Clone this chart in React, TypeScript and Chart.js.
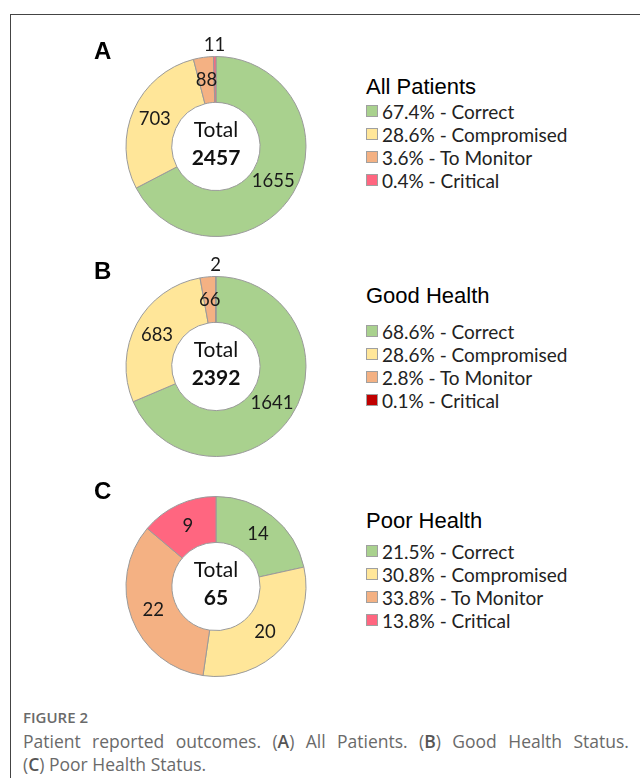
import React, { useEffect, useRef } from "react";
import { Chart, registerables } from "chart.js";

Chart.register(...registerables);

// ---------- data ----------
const categories = ["Correct", "Compromised", "To Monitor", "Critical"];
const allPatientsValues = [1655, 703, 88, 11];
const goodHealthValues = [1641, 683, 66, 2];
const poorHealthValues = [14, 20, 22, 9];
const panelLetters = ["A", "B", "C"];
const panelTitles = ["All Patients", "Good Health", "Poor Health"];
const colorsPink = ["#a9d18e", "#ffe699", "#f4b183", "#ff6680"];
const colorsDarkRed = ["#a9d18e", "#ffe699", "#f4b183", "#c00000"];
const figureLabel = "FIGURE 2";
const captionLine1 = ["Patient", "reported", "outcomes.", "(A)", "All", "Patients.", "(B)", "Good", "Health", "Status."];
const captionLine2 = "Poor Health Status.";

type PanelSpec = {
  values: number[];
  colors: string[];
  letter: string;
  title: string;
  cy: number;
  titleY: number;
  firstItemY: number;
};

const panels: PanelSpec[] = [
  { values: allPatientsValues, colors: colorsPink, letter: panelLetters[0], title: panelTitles[0], cy: 146.5, titleY: 87, firstItemY: 111 },
  { values: goodHealthValues, colors: colorsDarkRed, letter: panelLetters[1], title: panelTitles[1], cy: 366.5, titleY: 296, firstItemY: 331 },
  { values: poorHealthValues, colors: colorsPink, letter: panelLetters[2], title: panelTitles[2], cy: 586.5, titleY: 521, firstItemY: 551 },
];

const CX = 216;
const CANVAS_W = 240;
const CANVAS_H = 241;

const sliceLabelPlugin = {
  id: "sliceLabels",
  afterDatasetsDraw(chart: any) {
    const ctx = chart.ctx as CanvasRenderingContext2D;
    const meta = chart.getDatasetMeta(0);
    const data = chart.data.datasets[0].data as number[];
    const total = data.reduce((a, b) => a + b, 0);
    ctx.save();
    ctx.fillStyle = "#1a1a1a";
    ctx.textAlign = "center";
    ctx.textBaseline = "middle";
    ctx.font = "18.5px Lato";
    meta.data.forEach((arc: any, i: number) => {
      const p = arc.getProps(["x", "y", "startAngle", "endAngle", "innerRadius", "outerRadius"], true);
      const mid = (p.startAngle + p.endAngle) / 2;
      const frac = data[i] / total;
      const r = frac < 0.01 ? p.outerRadius + 11 : (p.innerRadius + p.outerRadius) / 2;
      ctx.fillText(String(data[i]), p.x + Math.cos(mid) * r, p.y + Math.sin(mid) * r);
    });
    const c = meta.data[0].getProps(["x", "y"], true);
    ctx.fillStyle = "#111";
    ctx.font = "21px Lato";
    ctx.fillText("Total", c.x, c.y - 16);
    ctx.font = "bold 21px Lato";
    ctx.fillText(String(total), c.x, c.y + 12);
    ctx.restore();
  },
};

function Donut({ spec }: { spec: PanelSpec }) {
  const ref = useRef<HTMLCanvasElement | null>(null);
  useEffect(() => {
    if (!ref.current) return;
    const chart = new Chart(ref.current, {
      type: "doughnut",
      data: {
        labels: categories,
        datasets: [
          {
            data: spec.values,
            backgroundColor: spec.colors,
            borderColor: "#9a9a9a",
            borderWidth: 1,
          },
        ],
      },
      options: {
        responsive: false,
        animation: false,
        events: [],
        radius: 90,
        cutout: "49%",
        layout: { padding: 0 },
        plugins: {
          legend: { display: false },
          tooltip: { enabled: false },
        },
      } as any,
      plugins: [sliceLabelPlugin],
    });
    return () => chart.destroy();
  }, [spec]);
  return (
    <canvas
      ref={ref}
      width={CANVAS_W}
      height={CANVAS_H}
      style={{
        position: "absolute",
        left: CX - CANVAS_W / 2,
        top: spec.cy - CANVAS_H / 2,
        width: CANVAS_W,
        height: CANVAS_H,
      }}
    />
  );
}

function Legend({ spec }: { spec: PanelSpec }) {
  const total = spec.values.reduce((a, b) => a + b, 0);
  return (
    <>
      <div
        style={{
          position: "absolute",
          left: 366,
          top: spec.titleY - 12,
          height: 24,
          lineHeight: "24px",
          fontFamily: "'Liberation Sans', Arial, sans-serif",
          fontSize: 22,
          color: "#000",
          whiteSpace: "nowrap",
        }}
      >
        {spec.title}
      </div>
      {categories.map((cat, i) => (
        <div
          key={cat}
          style={{
            position: "absolute",
            left: 366,
            top: spec.firstItemY + i * 23 - 11.5,
            height: 23,
            lineHeight: "23px",
            fontFamily: "Lato, sans-serif",
            fontSize: 19,
            color: "#222",
            whiteSpace: "nowrap",
            display: "flex",
            alignItems: "center",
          }}
        >
          <span
            style={{
              display: "inline-block",
              width: 10,
              height: 10,
              background: spec.colors[i],
              border: "1px solid #a0a0a0",
              marginRight: 4,
            }}
          />
          <span>{`${((spec.values[i] / total) * 100).toFixed(1)}% - ${cat}`}</span>
        </div>
      ))}
      <div
        style={{
          position: "absolute",
          left: 94,
          top: spec.cy - 96 - 14,
          height: 28,
          lineHeight: "28px",
          fontFamily: "'Liberation Sans', Arial, sans-serif",
          fontWeight: "bold",
          fontSize: 24,
          color: "#000",
        }}
      >
        {spec.letter}
      </div>
    </>
  );
}

export default function App() {
  const capStyle: React.CSSProperties = {
    position: "absolute",
    left: 23,
    width: 606,
    fontFamily: "'Open Sans', sans-serif",
    fontSize: 17.5,
    color: "#6a6a6a",
    lineHeight: "23px",
    whiteSpace: "nowrap",
  };
  const bold: React.CSSProperties = { fontWeight: 600, color: "#555" };
  return (
    <div style={{ position: "absolute", left: 0, top: 0, width: 640, height: 778, background: "#fff", overflow: "hidden" }}>
      <div
        style={{
          position: "absolute",
          left: 10,
          top: 14,
          width: 640,
          height: 780,
          borderLeft: "1px solid #444",
          borderTop: "1px solid #444",
        }}
      />
      {panels.map((p) => (
        <React.Fragment key={p.letter}>
          <Donut spec={p} />
          <Legend spec={p} />
        </React.Fragment>
      ))}
      <div
        style={{
          position: "absolute",
          left: 23,
          top: 707,
          lineHeight: "20px",
          fontFamily: "'Open Sans', sans-serif",
          fontWeight: 600,
          fontSize: 15,
          color: "#6a6a6a",
        }}
      >
        {figureLabel}
      </div>
      <div style={{ ...capStyle, top: 729.5, display: "flex", justifyContent: "space-between" }}>
        {captionLine1.map((w, i) => (
          <span key={i}>
            {w.startsWith("(") ? (
              <>
                (<span style={bold}>{w[1]}</span>)
              </>
            ) : (
              w
            )}
          </span>
        ))}
      </div>
      <div style={{ ...capStyle, top: 752.5 }}>
        (<span style={bold}>C</span>) {captionLine2}
      </div>
    </div>
  );
}
